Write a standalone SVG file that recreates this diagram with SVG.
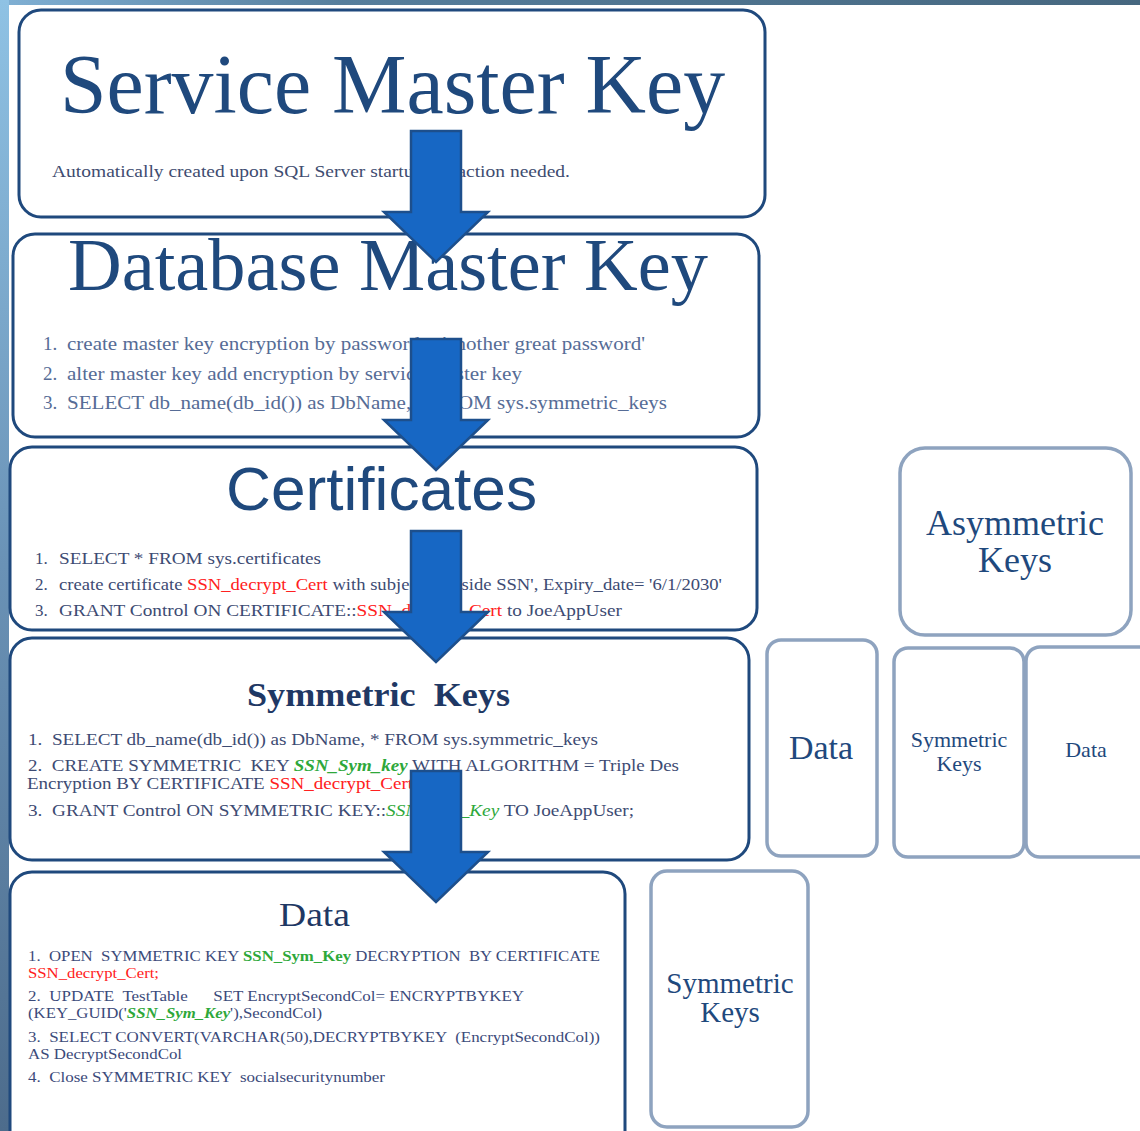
<svg xmlns="http://www.w3.org/2000/svg" width="1140" height="1131" viewBox="0 0 1140 1131">
<style>
text{white-space:pre}
.main{fill:#fff;stroke:#1f497d;stroke-width:3}
.side{fill:#fff;stroke:#8ea3bf;stroke-width:3.5}
.serif{font-family:"Liberation Serif","Times New Roman",serif}
.sans{font-family:"Liberation Sans",Arial,sans-serif}
.h{fill:#1f497d}
.hd{fill:#1f3864}
.b2{fill:#566c96;font-size:19px}
.b3{fill:#3d4b73;font-size:17px}
.b4{fill:#3d4b73;font-size:17px}
.b5{fill:#3b4a7a;font-size:14.5px}
.red{fill:#ff2020}
.grn{fill:#2ea83a}
.arrow{fill:#1767c4;stroke:#1d4f8c;stroke-width:2.5;stroke-linejoin:miter}
</style>
<defs>
<linearGradient id="lg" x1="0" y1="0" x2="0" y2="1">
<stop offset="0" stop-color="#8fc2e4"/>
<stop offset="0.5" stop-color="#6a92b6"/>
<stop offset="1" stop-color="#4d6c8c"/>
</linearGradient>
<linearGradient id="tg" x1="0" y1="0" x2="1" y2="0">
<stop offset="0" stop-color="#80b0d4"/>
<stop offset="0.3" stop-color="#567e9c"/>
<stop offset="1" stop-color="#46677f"/>
</linearGradient>
<path id="arr" d="M411,0 H461 V81 H488 L436,131 L384,81 H411 Z"/>
</defs>
<rect width="1140" height="1131" fill="#fff"/>
<rect x="0" y="0" width="1140" height="5" fill="url(#tg)"/>
<rect x="0" y="0" width="9" height="1131" fill="url(#lg)"/>

<g id="service-master-key">
<rect class="main" x="19" y="10" width="746" height="207" rx="22"/>
<text class="serif h" x="60" y="113" font-size="84" textLength="665" lengthAdjust="spacingAndGlyphs">Service Master Key</text>
<text class="serif" x="52" y="177" font-size="17" fill="#404c70" textLength="518" lengthAdjust="spacingAndGlyphs">Automatically created upon SQL Server startup, no action needed.</text>
</g>

<g id="database-master-key">
<rect class="main" x="13" y="234" width="746" height="203" rx="22"/>
<text class="serif h" x="68" y="290" font-size="74" textLength="640" lengthAdjust="spacingAndGlyphs">Database Master Key</text>
<text class="serif b2" x="43" y="350">1.</text>
<text class="serif b2" x="67" y="350" textLength="578" lengthAdjust="spacingAndGlyphs">create master key encryption by password = 'another great password'</text>
<text class="serif b2" x="43" y="380">2.</text>
<text class="serif b2" x="67" y="380" textLength="455" lengthAdjust="spacingAndGlyphs">alter master key add encryption by service master key</text>
<text class="serif b2" x="43" y="409">3.</text>
<text class="serif b2" x="67" y="409" textLength="600" lengthAdjust="spacingAndGlyphs">SELECT db_name(db_id()) as DbName, * FROM sys.symmetric_keys</text>
</g>

<g id="certificates">
<rect class="main" x="10" y="447" width="747" height="183" rx="22"/>
<text class="sans h" x="226" y="510" font-size="62" textLength="311" lengthAdjust="spacingAndGlyphs">Certificates</text>
<text class="serif b3" x="35" y="564">1.</text>
<text class="serif b3" x="59" y="564" textLength="262" lengthAdjust="spacingAndGlyphs">SELECT * FROM sys.certificates</text>
<text class="serif b3" x="35" y="590">2.</text>
<text class="serif b3" x="59" y="590" textLength="663" lengthAdjust="spacingAndGlyphs">create certificate <tspan class="red">SSN_decrypt_Cert</tspan> with subject = 'Inside SSN', Expiry_date= '6/1/2030'</text>
<text class="serif b3" x="35" y="616">3.</text>
<text class="serif b3" x="59" y="616" textLength="563" lengthAdjust="spacingAndGlyphs">GRANT Control ON CERTIFICATE::<tspan class="red">SSN_decrypt_Cert</tspan> to JoeAppUser</text>
</g>

<g id="symmetric-keys">
<rect class="main" x="10" y="638" width="739" height="222" rx="22"/>
<text class="serif hd" x="247" y="706" font-size="33" font-weight="bold" textLength="263" lengthAdjust="spacingAndGlyphs">Symmetric  Keys</text>
<text class="serif b4" x="28" y="745" textLength="570" lengthAdjust="spacingAndGlyphs">1.  SELECT db_name(db_id()) as DbName, * FROM sys.symmetric_keys</text>
<text class="serif b4" x="28" y="771" textLength="651" lengthAdjust="spacingAndGlyphs">2.  CREATE SYMMETRIC  KEY <tspan class="grn" font-style="italic" font-weight="bold">SSN_Sym_key</tspan> WITH ALGORITHM = Triple Des</text>
<text class="serif b4" x="27" y="789" textLength="386" lengthAdjust="spacingAndGlyphs">Encryption BY CERTIFICATE <tspan class="red">SSN_decrypt_Cert</tspan></text>
<text class="serif b4" x="28" y="816" textLength="606" lengthAdjust="spacingAndGlyphs">3.  GRANT Control ON SYMMETRIC KEY::<tspan class="grn" font-style="italic">SSN_Sym_Key</tspan> TO JoeAppUser;</text>
</g>

<g id="data">
<rect class="main" x="10" y="872" width="615" height="285" rx="22"/>
<text class="serif hd" x="279" y="926" font-size="34" textLength="71" lengthAdjust="spacingAndGlyphs">Data</text>
<text class="serif b5" x="28" y="961" textLength="572" lengthAdjust="spacingAndGlyphs">1.  OPEN  SYMMETRIC KEY <tspan class="grn" font-weight="bold">SSN_Sym_Key</tspan> DECRYPTION  BY CERTIFICATE</text>
<text class="serif b5 red" x="28" y="978" textLength="131" lengthAdjust="spacingAndGlyphs">SSN_decrypt_Cert;</text>
<text class="serif b5" x="28" y="1001" textLength="496" lengthAdjust="spacingAndGlyphs">2.  UPDATE  TestTable      SET EncryptSecondCol= ENCRYPTBYKEY</text>
<text class="serif b5" x="28" y="1018" textLength="294" lengthAdjust="spacingAndGlyphs">(KEY_GUID('<tspan class="grn" font-weight="bold" font-style="italic">SSN_Sym_Key</tspan>'),SecondCol)</text>
<text class="serif b5" x="28" y="1042" textLength="572" lengthAdjust="spacingAndGlyphs">3.  SELECT CONVERT(VARCHAR(50),DECRYPTBYKEY  (EncryptSecondCol))</text>
<text class="serif b5" x="28" y="1059" textLength="154" lengthAdjust="spacingAndGlyphs">AS DecryptSecondCol</text>
<text class="serif b5" x="28" y="1082" textLength="357" lengthAdjust="spacingAndGlyphs">4.  Close SYMMETRIC KEY  socialsecuritynumber</text>
</g>

<g id="asymmetric-keys">
<rect class="side" x="900" y="448" width="231" height="187" rx="25"/>
<text class="serif h" x="1015" y="535" font-size="36" text-anchor="middle">Asymmetric</text>
<text class="serif h" x="1015" y="572" font-size="36" text-anchor="middle">Keys</text>
</g>

<g id="data-right-1">
<rect class="side" x="767" y="640" width="110" height="216" rx="14"/>
<text class="serif h" x="821" y="759" font-size="34" text-anchor="middle">Data</text>
</g>

<g id="symmetric-keys-right">
<rect class="side" x="894" y="648" width="130" height="209" rx="14"/>
<text class="serif h" x="959" y="747" font-size="22" text-anchor="middle">Symmetric</text>
<text class="serif h" x="959" y="771" font-size="22" text-anchor="middle">Keys</text>
</g>

<g id="data-right-2">
<rect class="side" x="1026" y="647" width="130" height="210" rx="14"/>
<text class="serif h" x="1086" y="757" font-size="22" text-anchor="middle">Data</text>
</g>

<g id="symmetric-keys-bottom">
<rect class="side" x="651" y="871" width="157" height="256" rx="16"/>
<text class="serif h" x="730" y="993" font-size="29" text-anchor="middle">Symmetric</text>
<text class="serif h" x="730" y="1022" font-size="29" text-anchor="middle">Keys</text>
</g>

<g id="connectors">
<use href="#arr" class="arrow" transform="translate(0,131)"/>
<use href="#arr" class="arrow" transform="translate(0,339)"/>
<use href="#arr" class="arrow" transform="translate(0,531)"/>
<use href="#arr" class="arrow" transform="translate(0,771)"/>
</g>
</svg>
